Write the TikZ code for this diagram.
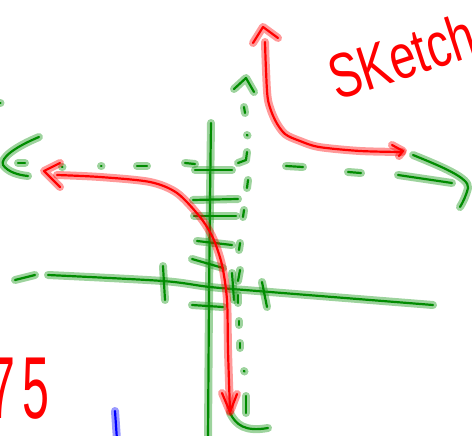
\documentclass[tikz,border=0pt]{standalone}
\usepackage{fontspec}
\setmainfont{Liberation Sans}

\definecolor{penGreen}{RGB}{0,140,0}
\definecolor{penRed}{RGB}{255,0,0}
\definecolor{penBlue}{RGB}{0,0,255}

\tikzset{
  greenpen/.style={draw=penGreen, line width=2.2pt, line cap=round, line join=round,
    preaction={draw=penGreen!85!white, draw opacity=0.45, line width=8pt, line cap=round, line join=round}},
  redpen/.style={draw=penRed, line width=2.2pt, line cap=round, line join=round,
    preaction={draw=penRed, draw opacity=0.4, line width=8pt, line cap=round, line join=round}},
  bluepen/.style={draw=penBlue, line width=2.2pt, line cap=round,
    preaction={draw=penBlue, draw opacity=0.4, line width=8pt, line cap=round}},
  handtext/.style={text=penRed, inner sep=0pt}
}

\begin{document}
\begin{tikzpicture}[x=1pt, y=-1pt]
  \useasboundingbox (0,0) rectangle (472,436);
  \clip (0,0) rectangle (472,436);

  % y-axis
  \draw[greenpen] plot[smooth] coordinates {(211,123) (210,200) (209,300) (208,440)};

  % x-axis
  \draw[greenpen] (15,280) -- (35,275);
  \draw[greenpen] plot[smooth] coordinates {(48,275) (163,281) (210,287) (270,292) (433,305)};
  \draw[greenpen] (163,266) -- (165,300);
  \draw[greenpen] (262,282) -- (267,307);

  % ticks on the y-axis
  \draw[greenpen] (195,170) -- (232,170);
  \draw[greenpen] (193,200) -- (238,199);
  \draw[greenpen] (194,216) -- (236,216);
  \draw[greenpen] (197,241) -- (232,245);
  \draw[greenpen] (192,259) -- (223,268);
  \draw[greenpen] (192,305) -- (223,307);

  % horizontal asymptote
  \draw[greenpen] (39,137) .. controls (15,147) and (0,158) .. (3,165) .. controls (8,172) and (18,175) .. (28,176);
  \draw[greenpen] (18,163) -- (25,163);
  \draw[greenpen] (62,167) -- (62.5,167);
  \draw[greenpen] (101,166) -- (101.5,166);
  \draw[greenpen] (137,166) -- (147,166);
  \draw[greenpen] (185,163) -- (195,164);
  \draw[greenpen] (286,166) -- (303,167);
  \draw[greenpen] (348,172) -- (361,173);
  \draw[greenpen] (398,175) -- (452,183);
  \draw[greenpen] (413,155) .. controls (440,166) and (470,178) .. (468,188) .. controls (466,196) and (463,202) .. (460,207);
  \draw[greenpen] (0,103) -- (0.5,103);

  % vertical asymptote
  \draw[greenpen] (234,89) -- (246,78) -- (254,92);
  \draw[greenpen] (244,107) -- (245,113);
  \draw[greenpen] (247,135) -- (247.5,135.5);
  \draw[greenpen] (247,152) -- (246,160) -- (238,163);
  \draw[greenpen] (248,180) -- (247,188);
  \draw[greenpen] (244,210) -- (243,217);
  \draw[greenpen] (240,243) -- (239,250);
  \draw[greenpen] (240,270) -- (238,281);
  \draw[greenpen] (232,273) -- (234,300);
  \draw[greenpen] (238,295) -- (238,303);
  \draw[greenpen] (239,321) -- (239,325);
  \draw[greenpen] (240,343) -- (240,348);
  \draw[greenpen] (244,371) -- (244.5,371.5);
  \draw[greenpen] (246,396) -- (246,413);
  \draw[greenpen] (230,413) .. controls (236,425) and (245,432) .. (268,428);

  % left branch
  \draw[redpen] plot[smooth] coordinates {(57,175) (100,177) (150,182) (177,193) (200,217) (213,238) (222,265) (227,300) (228,350) (230,411)};
  \draw[redpen] (60,163) -- (44,171) -- (60,187);
  \draw[redpen] (222,393) -- (230,412) -- (237,394);

  % right branch
  \draw[redpen] plot[smooth] coordinates {(265,42) (266,70) (268,100) (275,120) (285,134) (300,141) (319,147) (360,151) (402,152)};
  \draw[redpen] (253,43) -- (263,27) -- (278,38);
  \draw[redpen] (392,145) -- (403,151) -- (399,156);

  % writing
  \node[handtext, anchor=base west, rotate=18, font=\fontsize{63}{70}\selectfont] (title) at (337,101) {\scalebox{0.74}[1]{SKetch}};
  \node[handtext, anchor=base east, font=\fontsize{88}{96}\selectfont] (num) at (50,418) {\scalebox{0.55}[1]{7\kern14pt 5}};

  % blue mark
  \draw[bluepen] (115,411) -- (117,440);
\end{tikzpicture}
\end{document}
